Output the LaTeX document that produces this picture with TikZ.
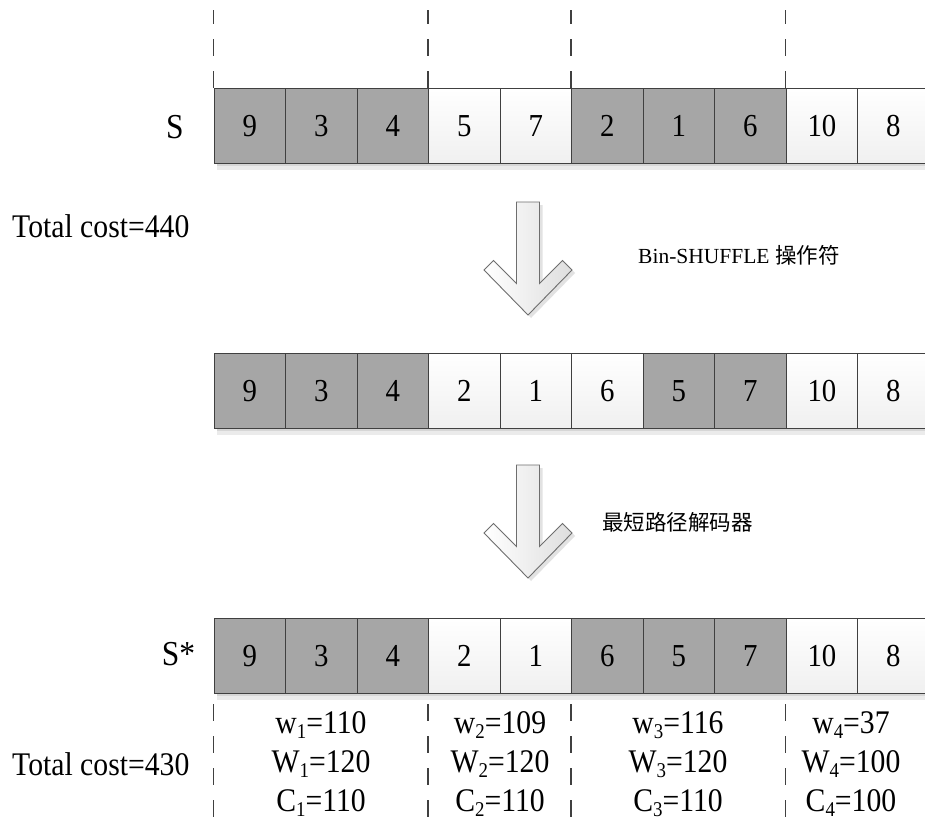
\documentclass[tikz,border=0pt]{standalone}
\usepackage{fontspec}
\setmainfont{Liberation Serif}[FakeStretch=0.9]
\newfontfamily\plainserif{Liberation Serif}
\newfontfamily\cjk{Noto Sans CJK SC}
\usetikzlibrary{shadows,calc}

\definecolor{cellgray}{HTML}{A6A6A6}
\definecolor{edgegray}{HTML}{404040}
\definecolor{arrowedge}{HTML}{6E6E6E}

\newcommand\sbs[1]{\raisebox{-0.15em}{\fontsize{21}{21}\selectfont #1}}

\begin{document}
\begin{tikzpicture}[x=1pt,y=-1pt,
  cellbase/.style={rectangle, draw=edgegray, line width=1.3pt,
    minimum width=71.5pt, minimum height=75pt, inner sep=0pt,
    anchor=north west, font=\fontsize{32}{32}\selectfont},
  gcell/.style={cellbase, fill=cellgray},
  wcell/.style={cellbase, top color=white, bottom color=black!6},
  rowlabel/.style={font=\fontsize{35}{35}\selectfont, inner sep=0pt},
  costlabel/.style={font=\fontsize{33}{33}\selectfont, inner sep=0pt, anchor=west},
  oplabel/.style={font=\plainserif\fontsize{21.5}{22}\selectfont, inner sep=0pt, anchor=west},
  binlabel/.style={font=\fontsize{33}{39}\selectfont, inner sep=0pt, align=center},
  binsep/.style={draw=edgegray, line width=1.2pt, dash pattern=on 17pt off 15pt},
  rowshadow/.style={fill=black!#1, draw=none},
  blockarrow/.pic={
    \draw[draw=arrowedge, line width=0.9pt, left color=white, right color=black!13,
          drop shadow={shadow xshift=3pt, shadow yshift=-3pt, fill=black!22}]
      (0,0) -- (44,-45) -- (34.5,-54.5) -- (11.5,-31.5) -- (11.5,-113)
      -- (-11.5,-113) -- (-11.5,-31.5) -- (-34.5,-54.5) -- (-44,-45) -- cycle;
  }
]
\useasboundingbox (0,0) rectangle (925,821);
\fill[white] (0,0) rectangle (925,821);

% soft shadows under the three rows
\foreach \t in {88,353,618}{
  \fill[rowshadow=16] (217,\t+75) rectangle (925,\t+78);
  \fill[rowshadow=8] (217,\t+78) rectangle (925,\t+82);
}

% row S
\foreach \v/\c [count=\i from 0] in {9/gcell,3/gcell,4/gcell,5/wcell,7/wcell,2/gcell,1/gcell,6/gcell,10/wcell,8/wcell}
  \node[\c] (a\i) at ({213.5+71.5*\i},88) {\v};
% row after shuffling
\foreach \v/\c [count=\i from 0] in {9/gcell,3/gcell,4/gcell,2/wcell,1/wcell,6/wcell,5/gcell,7/gcell,10/wcell,8/wcell}
  \node[\c] (b\i) at ({213.5+71.5*\i},353) {\v};
% row S*
\foreach \v/\c [count=\i from 0] in {9/gcell,3/gcell,4/gcell,2/wcell,1/wcell,6/gcell,5/gcell,7/gcell,10/wcell,8/wcell}
  \node[\c] (c\i) at ({213.5+71.5*\i},618) {\v};

% bin boundaries above S and below S*
\foreach \i/\n in {0/p,3/q,5/r,8/s}{
  \coordinate (top\n) at ($(a\i.north west)+(0,-78)$);
  \draw[binsep] (a\i.north west) -- (top\n);
  \coordinate (bot\n) at ($(c\i.south west)+(0,128)$);
  \draw[binsep] ($(c\i.south west)+(0,10)$) -- (bot\n);
}

% row names and costs
\node[rowlabel] (lS) at (175,127) {S};
\node[rowlabel] (lSs) at (178.5,654) {S*};
\node[costlabel] (cost1) at (12,226) {Total cost=440};
\node[costlabel] (cost2) at (12,764) {Total cost=430};

% operators between the rows
\pic (arrA) at (528,315) {blockarrow};
\pic (arrB) at (528,578) {blockarrow};
\node[oplabel] (op1) at (638,255) {Bin-SHUFFLE {\cjk 操作符}};
\node[oplabel] (op2) at (602,522) {\cjk 最短路径解码器};

% bin weights and capacities
\node[binlabel] (bin1) at (321,764) {w\sbs{1}=110\\W\sbs{1}=120\\C\sbs{1}=110};
\node[binlabel] (bin2) at (500,764) {w\sbs{2}=109\\W\sbs{2}=120\\C\sbs{2}=110};
\node[binlabel] (bin3) at (678,764) {w\sbs{3}=116\\W\sbs{3}=120\\C\sbs{3}=110};
\node[binlabel] (bin4) at (851,764) {w\sbs{4}=37\\W\sbs{4}=100\\C\sbs{4}=100};
\end{tikzpicture}
\end{document}
